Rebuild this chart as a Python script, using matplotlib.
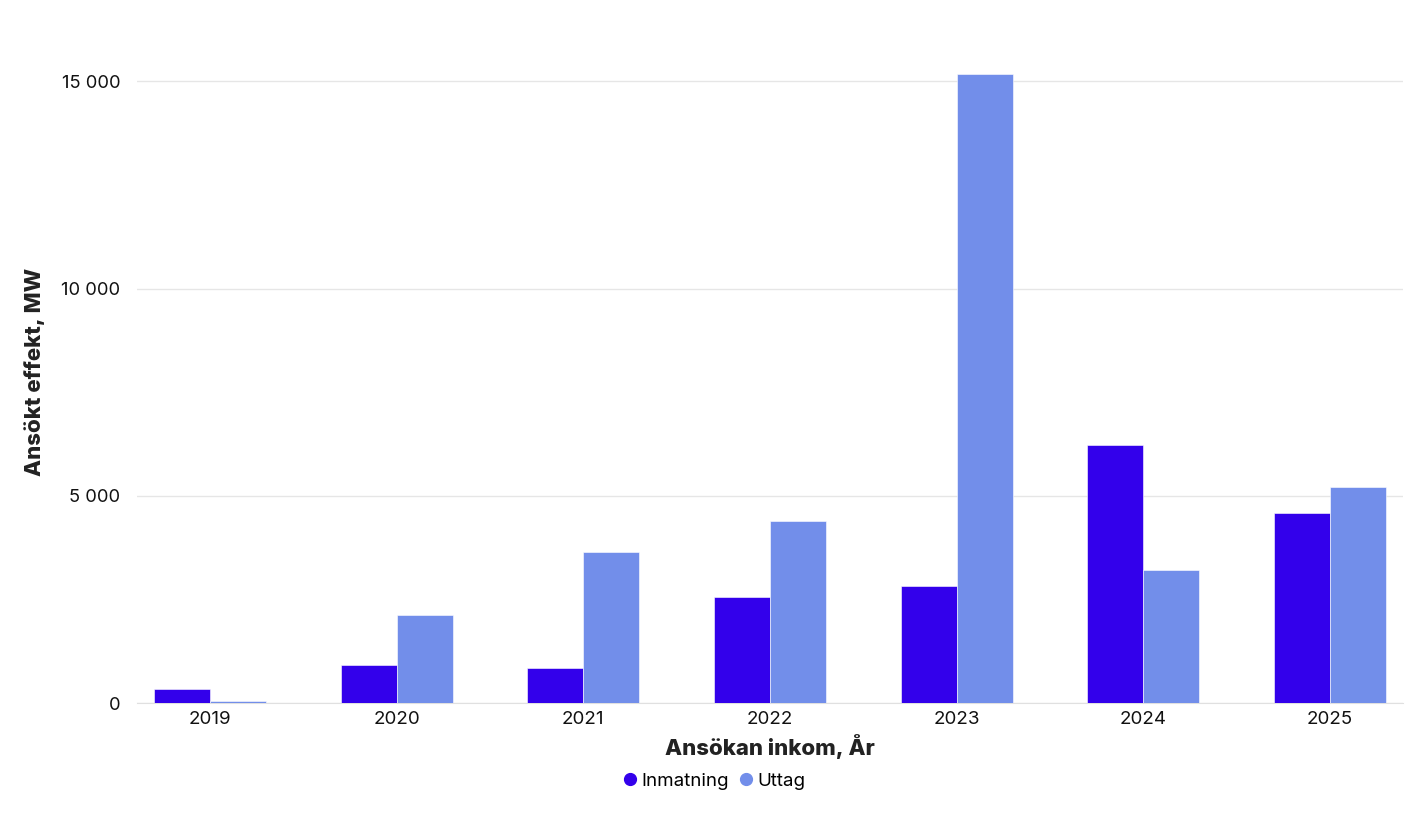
import matplotlib.pyplot as plt
import numpy as np
from matplotlib.lines import Line2D

years = ["2019", "2020", "2021", "2022", "2023", "2024", "2025"]
inmatning = [330, 920, 845, 2560, 2830, 6235, 4590]
uttag = [45, 2125, 3650, 4400, 15175, 3215, 5220]
yticks = [0, 5000, 10000, 15000]
ytick_labels = ["0", "5 000", "10 000", "15 000"]

c_in = "#3300eb"
c_ut = "#728eea"

plt.rcParams['font.family'] = ['Inter', 'DejaVu Sans']

fig = plt.figure(figsize=(14.23, 8.23), dpi=100)
ax = fig.add_axes([137/1423, 120/823, 1266/1423, 663/823])

x = np.arange(len(years))
w = 0.3
ax.bar(x - w/2, inmatning, w, color=c_in, edgecolor="white", linewidth=0.4, zorder=3)
ax.bar(x + w/2, uttag, w, color=c_ut, edgecolor="white", linewidth=0.4, zorder=3)

ax.set_xlim(-0.39, len(years) - 1 + 0.39)
ax.set_ylim(0, 16000)
ax.set_yticks(yticks)
ax.set_yticklabels(ytick_labels)
ax.set_xticks(x)
ax.set_xticklabels(years)
ax.grid(axis="y", color="#e6e6e6", linewidth=1, zorder=0)
for s in ["top", "right", "left"]:
    ax.spines[s].set_visible(False)
ax.spines["bottom"].set_color("#e0e0e0")
ax.tick_params(axis="x", length=0, labelsize=13.5, colors="#111111", pad=6)
ax.tick_params(axis="y", length=0, labelsize=13.2, colors="#111111", pad=12)

ax.set_xlabel("Ansökan inkom, År", fontsize=16, fontweight="heavy", color="#222222", labelpad=4)
ax.set_ylabel("Ansökt effekt, MW", fontsize=16, fontweight="heavy", color="#222222")
ax.yaxis.set_label_coords(-0.073, 0.5)

handles = [
    Line2D([], [], marker="o", linestyle="", color=c_in, markersize=8.5, label="Inmatning"),
    Line2D([], [], marker="o", linestyle="", color=c_ut, markersize=8.5, label="Uttag"),
]
fig.legend(handles=handles, loc="center", bbox_to_anchor=(713/1423, 1 - 781/823), ncol=2,
           frameon=False, fontsize=13.5, handletextpad=0.1, columnspacing=0.4, handlelength=1)

fig.savefig("out.png", dpi=100)
